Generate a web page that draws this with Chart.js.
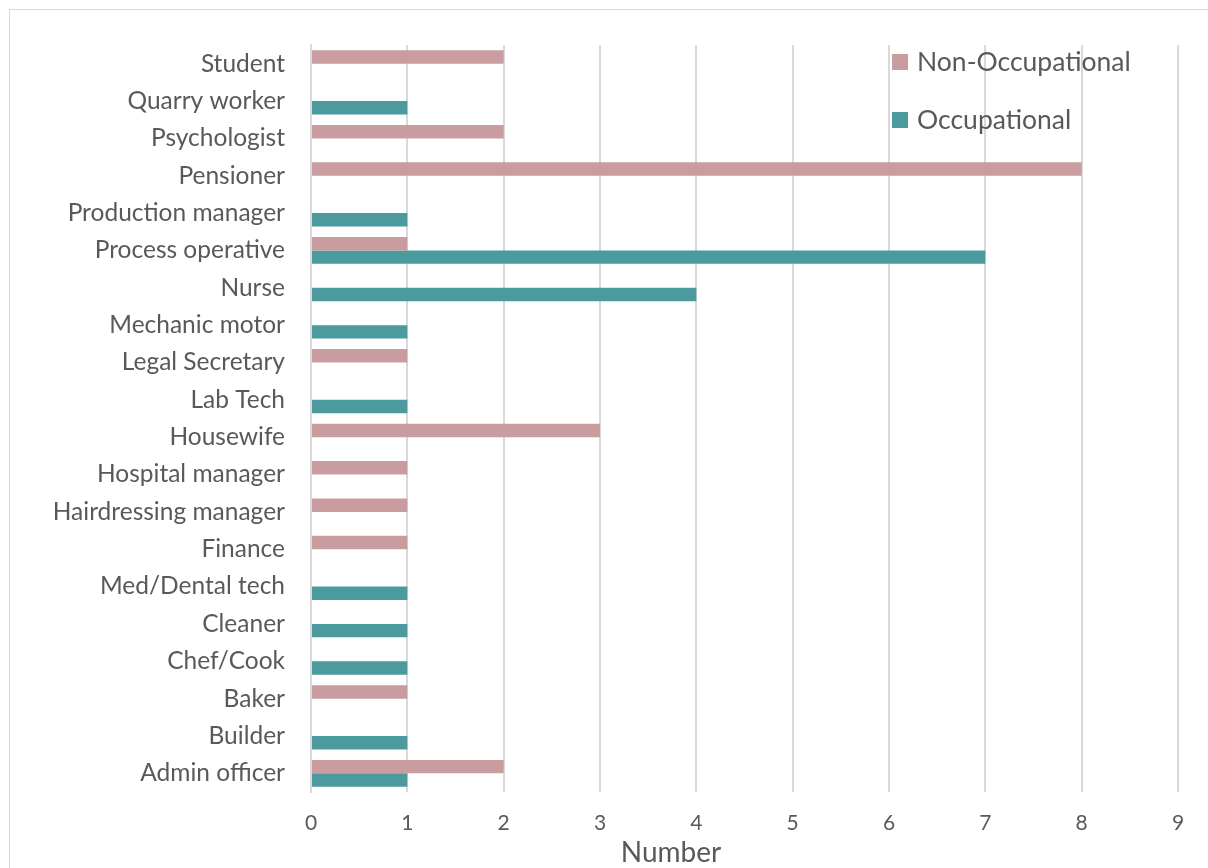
<!DOCTYPE html>
<html>
<head>
<meta charset="utf-8">
<script src="https://cdn.jsdelivr.net/npm/chart.js@4.4.1/dist/chart.umd.min.js"></script>
<style>
  html, body { margin: 0; padding: 0; background: #fff; }
  #wrap { position: relative; width: 1208px; height: 868px; overflow: hidden; }
  #frame { position: absolute; left: 9px; top: 9px; width: 1220px; height: 880px; border: 1px solid #d9d9d9; box-sizing: border-box; }
  #chart { position: absolute; left: 0; top: 0; }
  .legend { position: absolute; left: 892px; font-family: Lato, sans-serif; font-size: 26.5px; color: #595959; }
  .legend span.sw { display: inline-block; width: 16px; height: 16px; margin-right: 9px; vertical-align: 1px; }
  #xtitle { position: absolute; left: 571px; width: 200px; top: 834px; text-align: center; font-family: Lato, sans-serif; font-size: 28px; color: #595959; }
</style>
</head>
<body>
<div id="wrap">
  <div id="frame"></div>
  <canvas id="chart" width="1208" height="868"></canvas>
  <div class="legend" style="top:45px"><span class="sw" style="background:#C99DA0"></span>Non-Occupational</div>
  <div class="legend" style="top:103px"><span class="sw" style="background:#4A9A9E"></span>Occupational</div>
  <div id="xtitle">Number</div>
</div>
<script>
const categories = ['Student', 'Quarry worker', 'Psychologist', 'Pensioner', 'Production manager',
  'Process operative', 'Nurse', 'Mechanic motor', 'Legal Secretary', 'Lab Tech', 'Housewife',
  'Hospital manager', 'Hairdressing manager', 'Finance', 'Med/Dental tech', 'Cleaner', 'Chef/Cook',
  'Baker', 'Builder', 'Admin officer'];
const nonOccupational = [2, 0, 2, 8, 0, 1, 0, 0, 1, 0, 3, 1, 1, 1, 0, 0, 0, 1, 0, 2];
const occupational    = [0, 1, 0, 0, 1, 7, 4, 1, 0, 1, 0, 0, 0, 0, 1, 1, 1, 0, 1, 1];
const xTicks = [0, 1, 2, 3, 4, 5, 6, 7, 8, 9];

const textColor = '#595959';
const gridColor = '#d9d9d9';

new Chart(document.getElementById('chart'), {
  type: 'bar',
  data: {
    labels: categories,
    datasets: [
      { label: 'Non-Occupational', data: nonOccupational, backgroundColor: '#C99DA0', borderWidth: 0 },
      { label: 'Occupational', data: occupational, backgroundColor: '#4A9A9E', borderWidth: 0 }
    ]
  },
  options: {
    indexAxis: 'y',
    responsive: false,
    animation: false,
    layout: { padding: { top: 45, right: 30, bottom: 0, left: 0 } },
    datasets: { bar: { categoryPercentage: 0.72, barPercentage: 1.0 } },
    scales: {
      x: {
        min: 0,
        max: xTicks[xTicks.length - 1],
        afterFit: s => { s.height = 76; },
        afterBuildTicks: s => { s.ticks = xTicks.map(v => ({ value: v })); },
        grid: { color: gridColor, lineWidth: 2, drawTicks: false },
        border: { display: false },
        ticks: { color: textColor, padding: 19, font: { family: 'Lato', size: 21 } }
      },
      y: {
        afterFit: s => { s.width = 311; },
        grid: { display: false, drawTicks: false },
        border: { display: true, color: gridColor, width: 2 },
        ticks: { color: textColor, padding: 26, font: { family: 'Lato', size: 24.5 }, autoSkip: false }
      }
    },
    plugins: {
      legend: { display: false },
      tooltip: { enabled: false }
    }
  }
});
</script>
</body>
</html>
